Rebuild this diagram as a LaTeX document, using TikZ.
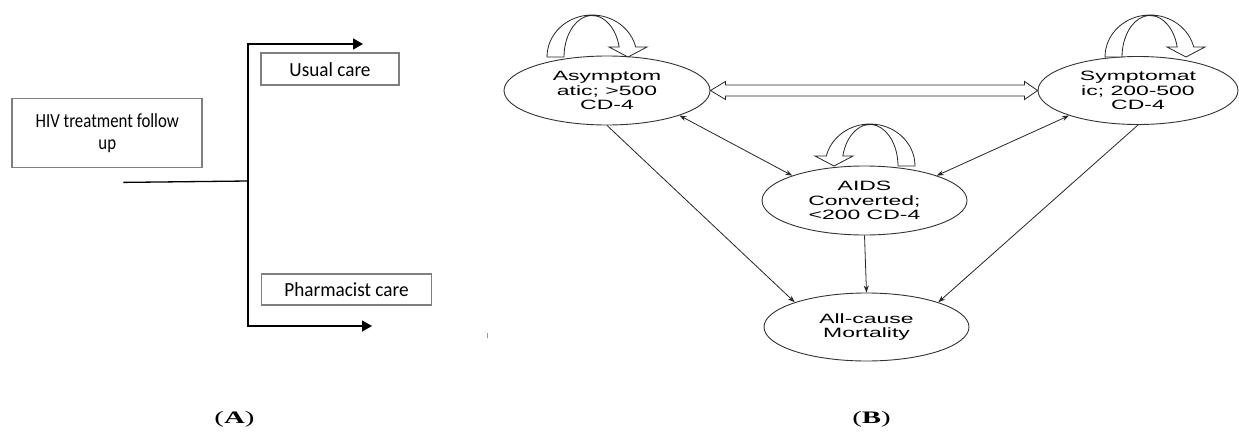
\documentclass[tikz,border=0pt]{standalone}
\usepackage{fontspec}
\usepackage{graphicx}
\usetikzlibrary{shapes.geometric,arrows.meta,calc}
\newfontfamily\calibA[FakeStretch=0.84]{Carlito}
\newfontfamily\calibB[FakeStretch=0.96]{Carlito}
\newfontfamily\arialS[FakeStretch=1.7]{Liberation Sans}
\newfontfamily\lblfont[FakeStretch=1.65]{Liberation Serif}
\definecolor{boxgray}{HTML}{7F7F7F}
\definecolor{ellgray}{HTML}{333333}
\tikzset{
 boxA/.style={draw=boxgray,line width=1.8pt,rectangle,inner sep=0pt,align=center,font=\calibB\fontsize{20}{22}\selectfont},
 connA/.style={draw=black,line width=1.3pt},
 tipA/.style={-{Triangle[length=10pt,width=11pt]}},
 stnode/.style={ellipse,draw=ellgray,line width=0.9pt,inner sep=0pt,align=center,font=\arialS\fontsize{13.5}{14.6}\selectfont},
 oneway/.style={draw=black!85,line width=0.8pt,-{Stealth[length=7pt,width=5pt]}},
 twoway/.style={draw=black!85,line width=0.8pt,{Stealth[length=7pt,width=5pt]}-{Stealth[length=7pt,width=5pt]}},
 hollowarrow/.style={draw=black!85,line width=0.8pt,fill=white},
 panellabel/.style={inner sep=0pt,font=\lblfont\fontsize{17.5}{19}\selectfont},
 selfloop/.pic={\draw[hollowarrow] (-45,0) arc[start angle=180,end angle=346.2,x radius=45,y radius=42] -- (55,-10) -- (36,0) -- (17,-10) -- (27.2,-10) arc[start angle=346.05,end angle=180,x radius=28,y radius=41.5] -- cycle;}
}
\begin{document}
\begin{tikzpicture}[x=1pt,y=-1pt]
\useasboundingbox (0,0) rectangle (1239,434);
\fill[white] (0,0) rectangle (1239,434);

% Panel A
\node[boxA,minimum width=190pt,minimum height=69pt,font=\calibA\fontsize{20}{22}\selectfont] (hiv) at (107.3,133) {HIV treatment follow\\up};
\node[boxA,minimum width=138pt,minimum height=32pt] (usual) at (330,69.2) {Usual care};
\node[boxA,minimum width=170pt,minimum height=31pt] (pharm) at (346.5,289.5) {Pharmacist care};
\coordinate (a0) at ($(hiv.south)+(16,14)$);
\coordinate (j) at (248,181);
\coordinate (ut) at (363,44);
\coordinate (pt) at (372,326);
\draw[connA] (a0) -- (j);
\draw[connA,tipA] (j) |- (ut);
\draw[connA,tipA] (j) |- (pt);

% Panel B
\node[stnode,minimum width=206pt,minimum height=69pt] (asym) at (607,90.5) {Asymptom\\atic; >500\\CD-4};
\node[stnode,minimum width=200pt,minimum height=68pt] (sym) at (1138,90.5) {Symptomat\\ic; 200-500\\CD-4};
\node[stnode,minimum width=205pt,minimum height=69pt] (aids) at (864.5,200.5) {AIDS\\Converted;\\<200 CD-4};
\node[stnode,minimum width=205pt,minimum height=68pt] (mort) at (866.5,327) {All-cause\\Mortality};

\pic at ($(asym.center)+(-15,-33.5)$) {selfloop};
\pic at ($(sym.center)+(12,-33.5)$) {selfloop};
\pic[xscale=-1] at ($(aids.center)+(5.5,-34.5)$) {selfloop};

\draw[hollowarrow] (asym.east) -- ++(15,-9) -- ++(0,3.5) -- ($(sym.west)+(-13,-5.5)$) -- ++(0,-3.5) -- (sym.west) -- ++(-13,9) -- ++(0,-3.5) -- ($(asym.east)+(15,5.5)$) -- ++(0,3.5) -- cycle;

\draw[twoway] (asym.-19) -- (aids.161);
\draw[twoway] (sym.-160) -- (aids.19);
\draw[oneway] (asym.south) -- (mort.161);
\draw[oneway] (sym.south) -- (mort.19);
\draw[oneway] (aids.south) -- (mort.north);

\draw[black!40,line width=0.8pt] (487,333) -- (487,338);

\node[panellabel] (labA) at (234.5,419) {(\textbf{A})};
\node[panellabel] (labB) at (871.5,419) {(\textbf{B})};
\end{tikzpicture}
\end{document}
